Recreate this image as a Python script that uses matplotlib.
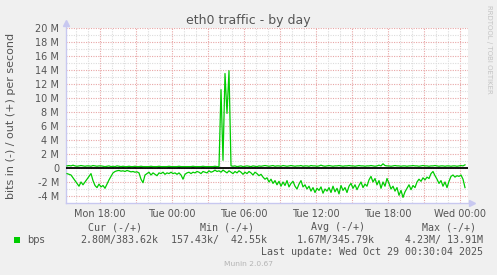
import matplotlib
matplotlib.use("Agg")
import matplotlib.pyplot as plt
import numpy as np

# ---------------- data ----------------
title = "eth0 traffic - by day"
ylabel = "bits in (-) / out (+) per second"
start_hour = 15.25          # Mon 15:15, hours since Mon 00:00
step_hours = 1.0 / 6.0      # 10 minute samples

in_mbps = [
    0.8, 0.9, 1.0, 1.4, 1.8, 2.2, 2.6, 2.0, 2.4, 2.0,
    1.6, 1.2, 0.8, 1.8, 2.5, 2.8, 2.3, 2.7, 2.5, 2.9,
    2.3, 1.7, 1.2, 0.7, 0.5, 0.4, 0.35, 0.45, 0.4, 0.5,
    0.35, 0.45, 0.55, 0.5, 0.6, 0.55, 0.7, 1.6, 2.1, 1.0,
    0.8, 0.6, 1.0, 0.7, 0.9, 1.1, 0.7, 0.8, 0.6, 0.9,
    0.7, 0.8, 0.6, 0.8, 0.7, 0.9, 0.7, 1.0, 1.6, 0.9,
    0.7, 0.6, 0.8, 0.6, 0.7, 0.5, 0.6, 0.8, 0.5, 0.6,
    0.7, 0.4, 0.6, 0.5, 0.3, 0.5, 0.4, 0.6, 0.3, 0.5,
    0.7, 0.4, 0.6, 0.8, 0.5, 0.7, 0.4, 0.6, 0.9, 0.6,
    0.8, 0.5, 0.7, 1.0, 0.6, 0.8, 1.1, 0.9, 1.3, 1.6,
    1.4, 2.0, 1.6, 2.2, 1.8, 2.4, 1.9, 2.6, 2.0, 2.5,
    1.8, 2.7, 2.2, 1.9, 2.6, 3.0, 2.3, 1.8, 2.7, 2.4,
    3.0, 2.6, 3.3, 2.8, 3.5, 2.9, 3.2, 2.7, 3.6, 3.0,
    3.3, 2.8, 3.5, 2.6, 3.4, 2.9, 3.7, 2.5, 3.2, 2.8,
    3.5, 2.6, 2.2, 2.9, 2.4, 3.1, 2.5, 2.0, 2.8, 2.3,
    2.6, 1.7, 1.2, 2.0, 1.5, 2.4, 1.8, 2.9, 2.0, 2.6,
    1.5, 2.2, 3.0, 2.6, 3.3, 2.8, 3.9, 3.2, 4.2, 3.4,
    2.9, 2.4, 3.1, 2.5, 2.8, 2.0, 1.6, 1.9, 1.4, 1.7,
    1.3, 1.5, 0.8, 0.5, 1.1, 1.6, 2.2, 1.8, 2.6, 2.0,
    2.8, 1.9, 1.2, 1.0, 1.3, 1.1, 1.2, 1.0, 1.6, 2.8,
]

out_mbps = [
    0.3, 0.35, 0.3, 0.4, 0.3, 0.25, 0.3, 0.35, 0.3, 0.25,
    0.3, 0.3, 0.25, 0.35, 0.3, 0.25, 0.3, 0.3, 0.25, 0.2,
    0.25, 0.3, 0.2, 0.25, 0.2, 0.3, 0.25, 0.2, 0.25, 0.2,
    0.2, 0.25, 0.2, 0.2, 0.25, 0.2, 0.2, 0.25, 0.2, 0.2,
    0.2, 0.2, 0.25, 0.2, 0.2, 0.2, 0.25, 0.2, 0.2, 0.2,
    0.2, 0.25, 0.2, 0.2, 0.2, 0.2, 0.25, 0.2, 0.2, 0.2,
    0.2, 0.2, 0.2, 0.25, 0.2, 0.2, 0.2, 0.2, 0.25, 0.2,
    0.2, 0.2, 0.2, 0.2, 0.25, 0.2, 0.2, 11.2, 1.1, 13.5,
    7.8, 13.9, 0.3, 0.25, 0.3, 0.2, 0.25, 0.3, 0.2, 0.25,
    0.3, 0.25, 0.2, 0.3, 0.25, 0.2, 0.3, 0.25, 0.3, 0.35,
    0.3, 0.25, 0.3, 0.35, 0.25, 0.3, 0.3, 0.25, 0.35, 0.3,
    0.25, 0.3, 0.35, 0.3, 0.25, 0.3, 0.3, 0.35, 0.25, 0.3,
    0.3, 0.25, 0.35, 0.3, 0.3, 0.25, 0.3, 0.4, 0.3, 0.25,
    0.3, 0.35, 0.3, 0.25, 0.3, 0.3, 0.35, 0.3, 0.25, 0.3,
    0.3, 0.35, 0.3, 0.3, 0.25, 0.3, 0.35, 0.3, 0.3, 0.25,
    0.3, 0.3, 0.35, 0.3, 0.25, 0.3, 0.4, 0.3, 0.6, 0.35,
    0.3, 0.3, 0.25, 0.3, 0.35, 0.3, 0.3, 0.25, 0.3, 0.3,
    0.25, 0.3, 0.3, 0.35, 0.3, 0.3, 0.25, 0.3, 0.35, 0.3,
    0.3, 0.25, 0.3, 0.3, 0.35, 0.3, 0.25, 0.3, 0.3, 0.25,
    0.3, 0.3, 0.25, 0.3, 0.3, 0.25, 0.3, 0.35, 0.3, 0.45,
]

xtick_hours = [18, 24, 30, 36, 42, 48]
xtick_labels = ["Mon 18:00", "Tue 00:00", "Tue 06:00", "Tue 12:00", "Tue 18:00", "Wed 00:00"]
ytick_values = [20, 18, 16, 14, 12, 10, 8, 6, 4, 2, 0, -2, -4]
ytick_labels = ["20 M", "18 M", "16 M", "14 M", "12 M", "10 M", "8 M", "6 M",
                "4 M", "2 M", "0", "-2 M", "-4 M"]
legend_name = "bps"
legend_headers = ["Cur (-/+)", "Min (-/+)", "Avg (-/+)", "Max (-/+)"]
legend_values = ["2.80M/383.62k", "157.43k/  42.55k", "1.67M/345.79k", "4.23M/ 13.91M"]
last_update = "Last update: Wed Oct 29 00:30:04 2025"
footer = "Munin 2.0.67"
watermark = "RRDTOOL / TOBI OETIKER"

# ---------------- figure ----------------
W, H = 497, 275
BG = "#f0f0f0"
GREEN = "#00cc00"
AXC = "#c8c8f0"
TXT = "#555555"

plt.rcParams["font.family"] = ["DejaVu Sans"]
fig = plt.figure(figsize=(W / 100, H / 100), dpi=100, facecolor=BG)


def fx(x):
    return x / W


def fy(y):
    return 1 - y / H


left_px, right_px, top_px, bot_px = 66, 468, 28, 203
ax = fig.add_axes([fx(left_px), fy(bot_px), (right_px - left_px) / W, (bot_px - top_px) / H])
ax.set_facecolor("white")

t = start_hour + step_hours * np.arange(len(in_mbps))
x0 = start_hour - step_hours / 2
x1 = start_hour + (right_px - 67) / 12.0
ax.set_xlim(x0, x1)
ax.set_ylim(-5, 20)

# grid
minor_c = "#dcdcdc"
major_c = "#e8a6a6"
dot = (0, (1, 1.2))
for h in range(int(np.ceil(x0)), int(np.floor(x1)) + 1):
    c = major_c if h % 3 == 0 else minor_c
    ax.axvline(h, color=c, lw=0.8, ls=dot, zorder=1)
for v in range(-4, 21):
    c = major_c if v % 2 == 0 else minor_c
    ax.axhline(v, color=c, lw=0.8, ls=dot, zorder=1)

for s in ax.spines.values():
    s.set_visible(False)

# axis lines with arrows
ax.plot([0, 0], [0, 1 + 5 / 175], transform=ax.transAxes, color=AXC, lw=1, clip_on=False, zorder=2)
ax.plot([0, 1 + 3 / 402], [0, 0], transform=ax.transAxes, color=AXC, lw=1, clip_on=False, zorder=2)
ax.plot([0], [1 + 5 / 175], transform=ax.transAxes, marker="^", ms=4.5, color=AXC,
        mec=AXC, clip_on=False, zorder=2)
ax.plot([1 + 4 / 402], [0], transform=ax.transAxes, marker=">", ms=4.5, color=AXC,
        mec=AXC, clip_on=False, zorder=2)

# data
ax.axhline(0, color="black", lw=1.3, zorder=3)
ax.plot(t, -np.array(in_mbps), color=GREEN, lw=0.9, zorder=4)
ax.plot(t, np.array(out_mbps), color=GREEN, lw=0.9, zorder=4)

ax.set_xticks(xtick_hours)
ax.set_xticklabels(xtick_labels)
ax.set_yticks(ytick_values)
ax.set_yticklabels(ytick_labels)
ax.tick_params(axis="both", length=0, labelsize=7, colors=TXT)
ax.tick_params(axis="y", pad=5)
ax.tick_params(axis="x", pad=4)

# texts
fig.text(fx(248.5), fy(24), title, ha="center", va="baseline", fontsize=9, color=TXT)
fig.text(fx(11), fy(115.5), ylabel, ha="center", va="center", rotation=90, fontsize=8, color=TXT)
fig.text(fx(489), fy(5), watermark, ha="center", va="top", rotation=270, fontsize=5, color="#c4c4c4")

mono = "DejaVu Sans Mono"
fs = 7.2
head_right = [142, 254, 365, 476]
val_right = [158, 267, 375, 483]
for hx, htxt in zip(head_right, legend_headers):
    fig.text(fx(hx), fy(227), htxt, ha="right", va="center", family=mono, fontsize=fs, color=TXT)
for vx, vtxt in zip(val_right, legend_values):
    fig.text(fx(vx), fy(240), vtxt, ha="right", va="center", family=mono, fontsize=fs, color=TXT)
fig.patches.append(plt.Rectangle((fx(14), fy(243)), 6 / W, 6 / H, transform=fig.transFigure,
                                 facecolor=GREEN, edgecolor="none"))
fig.text(fx(27), fy(240), legend_name, ha="left", va="center", fontsize=7, color=TXT)
fig.text(fx(483), fy(252), last_update, ha="right", va="center", family=mono, fontsize=fs, color=TXT)
fig.text(fx(248), fy(264), footer, ha="center", va="center", fontsize=5.4, color="#b4b4b4")

fig.savefig("out.png", dpi=100, facecolor=BG)
